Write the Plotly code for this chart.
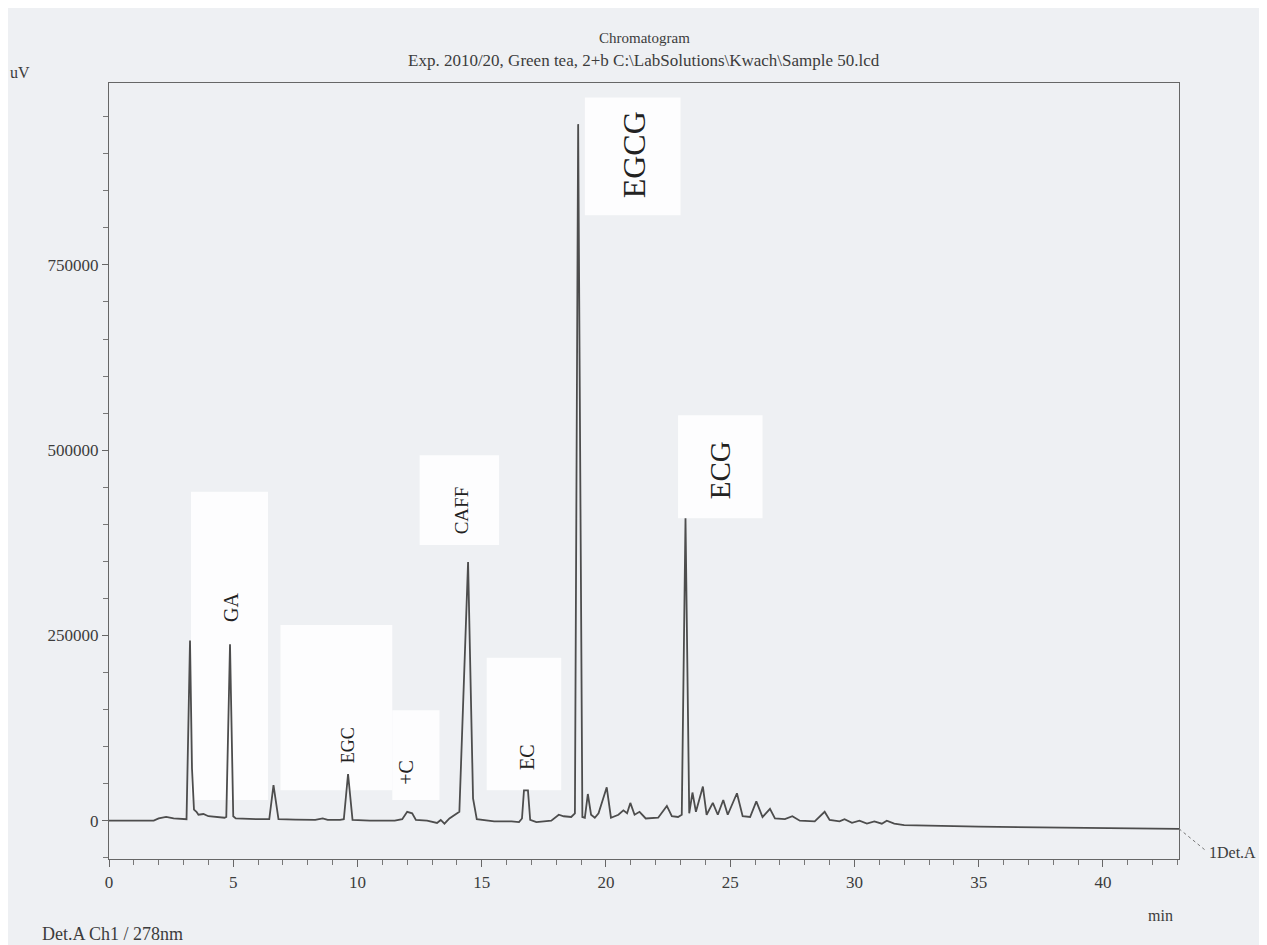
import plotly.graph_objects as go

# ---- data ----
time_min = [0.0, 1.8, 2.0, 2.3, 2.6, 3.0, 3.12, 3.26, 3.34, 3.42, 3.52, 3.6, 3.8, 4.0, 4.3,
            4.65, 4.72, 4.87, 5.0, 5.1, 6.0, 6.45, 6.62, 6.82, 7.5, 8.3, 8.6, 8.8, 9.3,
            9.45, 9.62, 9.8, 10.5, 11.5, 11.8, 12.0, 12.2, 12.35, 12.8, 13.2, 13.35, 13.5,
            13.7, 13.95, 14.1, 14.45, 14.65, 14.8, 15.5, 16.2, 16.5, 16.62, 16.7, 16.86,
            16.95, 17.2, 17.8, 18.1, 18.3, 18.6, 18.75, 18.88, 19.05, 19.15, 19.27, 19.4,
            19.55, 19.7, 20.03, 20.2, 20.5, 20.7, 20.85, 20.98, 21.15, 21.35, 21.6, 22.1,
            22.45, 22.65, 22.9, 23.05, 23.2, 23.35, 23.48, 23.62, 23.9, 24.05, 24.3, 24.5,
            24.72, 24.9, 25.27, 25.5, 25.8, 26.05, 26.3, 26.6, 26.8, 27.2, 27.5, 27.8,
            28.4, 28.8, 29.0, 29.4, 29.6, 29.9, 30.2, 30.5, 30.8, 31.1, 31.3, 31.6, 32.0,
            35.0, 38.0, 40.0, 43.06]
signal_uv = [0, 0, 3000, 5000, 3000, 2000, 2000, 243000, 70000, 15000, 12000, 8000, 9000,
             6000, 5000, 4000, 5000, 238000, 6000, 3000, 2000, 2000, 48000, 2000, 1500,
             1000, 3000, 1000, 1000, 2000, 63000, 1000, 0, 0, 2000, 12000, 10000, 1000, 0,
             -3000, 1000, -4000, 3000, 8000, 12000, 349000, 30000, 2000, -1000, -1000,
             -2000, 3000, 41000, 41000, 1000, -2000, 0, 8000, 6000, 5000, 10000, 940000,
             5000, 4000, 36000, 8000, 4000, 10000, 45000, 4000, 8000, 14000, 10000, 24000,
             8000, 12000, 3000, 4000, 20000, 6000, 5000, 8000, 408000, 10000, 38000, 12000,
             46000, 8000, 24000, 8000, 28000, 8000, 37000, 6000, 5000, 26000, 5000, 16000,
             3000, 2000, 6000, 0, -1000, 12000, 1000, -1000, 2000, -3000, 0, -4000, -1000,
             -4000, 0, -4000, -6000, -8000, -9000, -10000, -11000]

peak_names = ["GA", "EGC", "+C", "CAFF", "EC", "EGCG", "ECG"]
label_time = [4.91, 9.62, 11.95, 14.17, 16.82, 21.13, 24.59]
label_level = [287000, 102000, 66000, 419000, 86000, 898000, 473000]

x_ticks = [0, 5, 10, 15, 20, 25, 30, 35, 40]
y_ticks = [0, 250000, 500000, 750000]

# ---- styling ----
PAPER = "#eef0f3"
INK = "#3c3c3c"
LINE = "#4d4d4d"
SERIF = "Liberation Serif"
label_sizes = [20, 18, 20, 19, 20, 32, 29]
# white pasted label patches (x0, x1, y0, y1) in data units
patches = [(3.3, 6.4, 28000, 444000), (6.9, 11.4, 41000, 264000), (11.4, 13.3, 28000, 149000),
           (12.5, 15.7, 372000, 493000), (15.2, 18.2, 41000, 220000),
           (19.15, 23.0, 817000, 976000), (22.9, 26.3, 408000, 547000)]

fig = go.Figure()
fig.add_trace(go.Scatter(x=time_min, y=signal_uv, mode="lines",
                         line=dict(color=LINE, width=1.8), hoverinfo="skip",
                         showlegend=False, cliponaxis=True))

for (x0, x1, y0, y1) in patches:
    fig.add_shape(type="rect", xref="x", yref="y", x0=x0, x1=x1, y0=y0, y1=y1,
                  fillcolor="white", line=dict(width=0), layer="below", opacity=0.85)

for name, t, lv, fs in zip(peak_names, label_time, label_level, label_sizes):
    fig.add_annotation(x=t, y=lv, xref="x", yref="y", text=name, showarrow=False,
                       textangle=-90, font=dict(family=SERIF, size=fs, color="#222"))

# end-of-trace marker
fig.add_shape(type="line", xref="paper", yref="paper", x0=1.0, y0=0.039, x1=1.024, y1=0.012,
              line=dict(color="#777", width=1, dash="dot"))
fig.add_annotation(x=1.026, y=0.008, xref="paper", yref="paper", text="1Det.A",
                   showarrow=False, xanchor="left", yanchor="middle",
                   font=dict(family=SERIF, size=16, color=INK))

# titles and axis captions
fig.add_annotation(x=0.5, y=1.0, xref="paper", yref="paper", yshift=45, yanchor="middle",
                   text="Chromatogram", showarrow=False,
                   font=dict(family=SERIF, size=15, color=INK))
fig.add_annotation(x=0.5, y=1.0, xref="paper", yref="paper", yshift=23, yanchor="middle",
                   text="Exp. 2010/20, Green tea, 2+b C:\\LabSolutions\\Kwach\\Sample 50.lcd",
                   showarrow=False, font=dict(family=SERIF, size=17, color=INK))
fig.add_annotation(x=-0.083, y=1.0, xref="paper", yref="paper", yshift=11, yanchor="middle",
                   text="uV", showarrow=False, xanchor="center",
                   font=dict(family=SERIF, size=16, color=INK))
fig.add_annotation(x=0.996, y=0.0, xref="paper", yref="paper", yshift=-56, yanchor="middle",
                   text="min", showarrow=False,
                   font=dict(family=SERIF, size=16, color=INK))
fig.add_annotation(x=-0.0645, y=0.0, xref="paper", yref="paper", yshift=-75,
                   yanchor="middle", text="Det.A Ch1 / 278nm", showarrow=False,
                   xanchor="left", font=dict(family=SERIF, size=18, color=INK))

fig.update_layout(
    width=1267, height=945, autosize=False,
    margin=dict(l=101, r=96, t=75, b=94),
    paper_bgcolor=PAPER, plot_bgcolor=PAPER,
    font=dict(family=SERIF, size=17, color=INK),
)
fig.update_xaxes(range=[0, 43.06], tickvals=x_ticks, ticks="outside", ticklen=7,
                 tickcolor="#666", showline=True, linecolor="#666", linewidth=1.2,
                 mirror=True, showgrid=False, zeroline=False,
                 minor=dict(dtick=1, ticks="outside", ticklen=5, tickcolor="#777"),
                 tickfont=dict(family=SERIF, size=17, color=INK))
fig.update_yaxes(range=[-51700, 995500], tickvals=y_ticks, tickformat="d",
                 ticks="outside", ticklen=6, tickcolor="#666", showline=True,
                 linecolor="#666", linewidth=1.2, mirror=True, showgrid=False,
                 zeroline=False,
                 minor=dict(dtick=50000, ticks="outside", ticklen=5, tickcolor="#777"),
                 tickfont=dict(family=SERIF, size=17, color=INK))

fig.write_html("out.html")
